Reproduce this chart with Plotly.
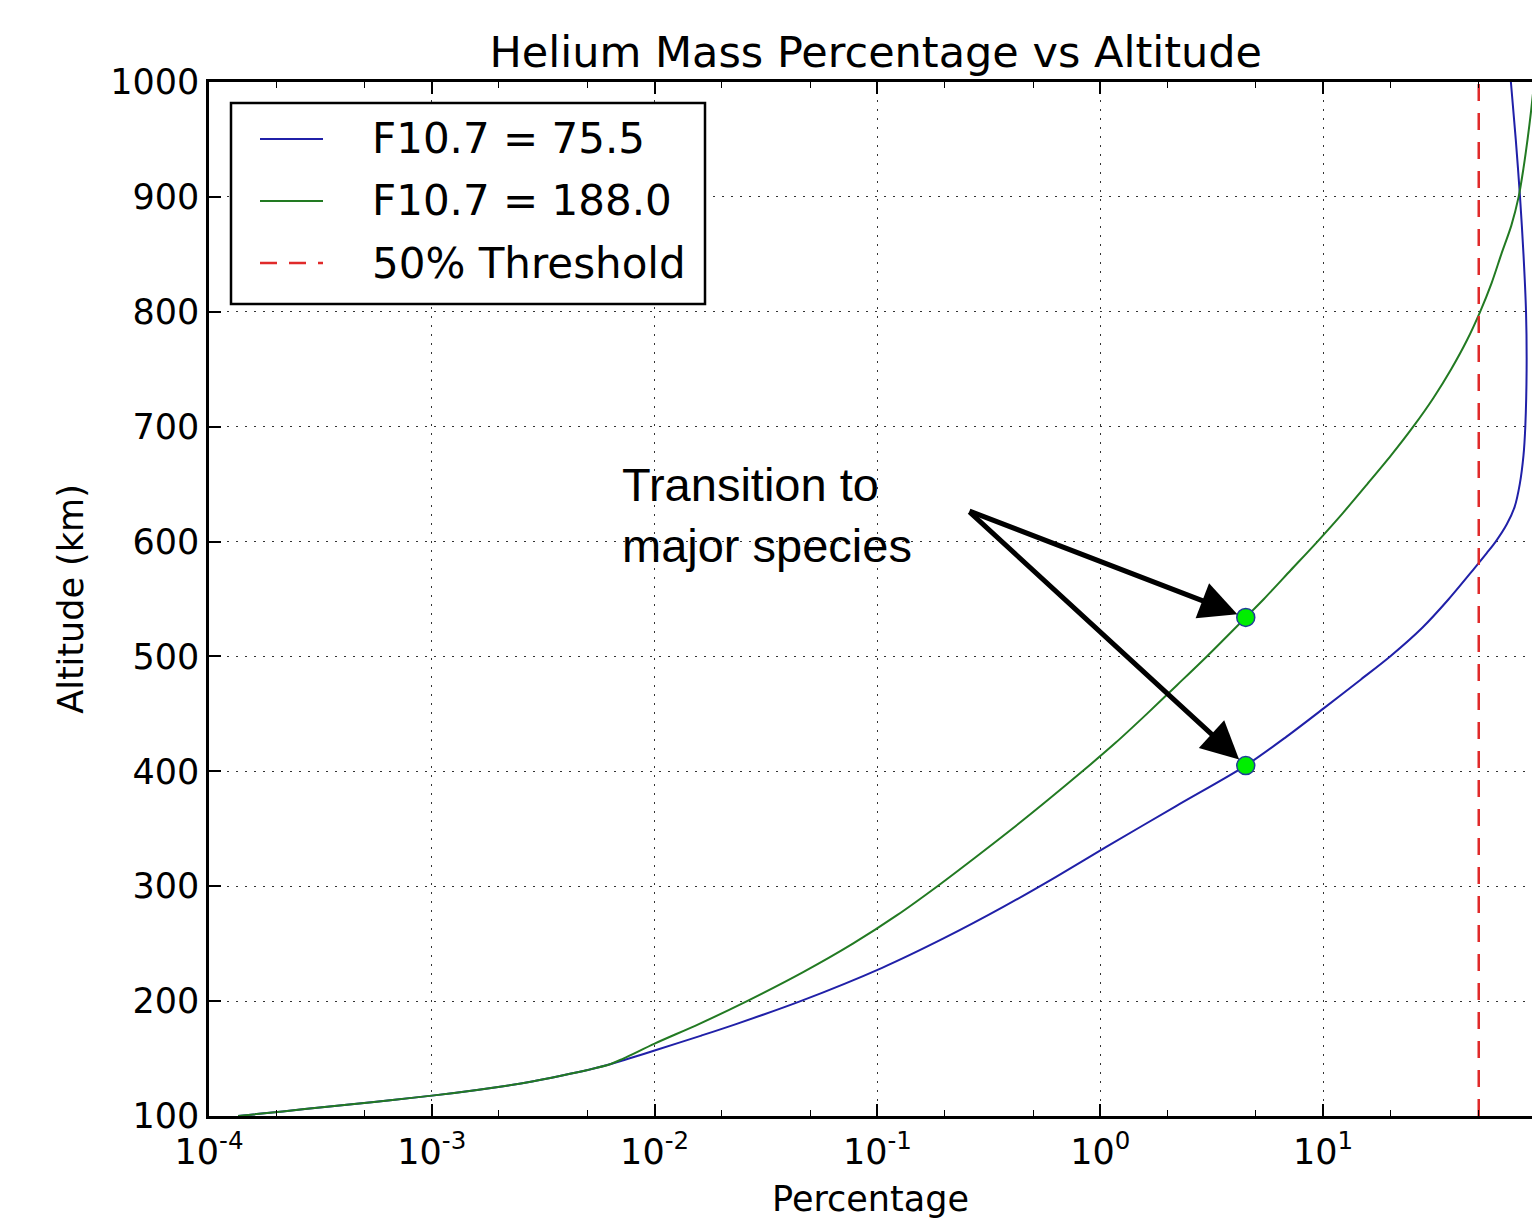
import plotly.graph_objects as go
import numpy as np

# ---- data ----
blue_alt = [100, 104, 108, 112, 116, 120, 125, 130, 135, 140, 145, 150, 157, 170, 180, 200,
            229, 255, 282, 308, 334, 370, 405, 430, 455, 480, 500, 525, 550, 575, 590, 600,
            615, 630, 650, 675, 700, 750, 800, 850, 900, 950, 1000]
blue_pct = [1.35e-4, 2.14e-4, 3.39e-4, 5.37e-4, 8.32e-4, 1.26e-3, 1.95e-3, 2.82e-3, 3.80e-3,
            5.01e-3, 6.31e-3, 7.67e-3, 1.0e-2, 1.62e-2, 2.32e-2, 4.52e-2, 0.105, 0.200, 0.367,
            0.631, 1.06, 2.20, 4.5, 6.84, 10.1, 14.8, 20.0, 27.9, 36.7, 47.0, 54.3, 59.6,
            66.8, 72.4, 76.4, 79.4, 80.9, 82.0, 81.5, 79.4, 76.6, 73.3, 69.7]

green_alt = [100, 104, 108, 112, 116, 120, 125, 130, 135, 140, 145, 150, 163, 180, 200, 225,
             250, 275, 300, 325, 350, 375, 400, 425, 450, 475, 500, 534, 550, 575, 600, 625,
             650, 675, 700, 725, 750, 775, 800, 825, 850, 875, 900, 925, 950, 975, 1000]
green_pct = [1.35e-4, 2.14e-4, 3.39e-4, 5.37e-4, 8.32e-4, 1.26e-3, 1.95e-3, 2.82e-3, 3.80e-3,
             5.01e-3, 6.31e-3, 7.24e-3, 1.0e-2, 1.58e-2, 2.60e-2, 4.62e-2, 7.76e-2, 0.123,
             0.186, 0.275, 0.403, 0.582, 0.832, 1.175, 1.62, 2.21, 3.01, 4.5, 5.43, 7.16, 9.44,
             12.3, 15.8, 20.2, 25.4, 31.3, 37.6, 44.2, 50.7, 57.1, 63.1, 70.0, 75.5, 79.4,
             82.8, 85.9, 88.7]

threshold_pct = 50
threshold_alt = [100, 1000]

trans_pct = [4.5, 4.5]
trans_alt = [534, 405]

arrow_tail_pct = 0.255
arrow_tail_alt = 627

series_names = ["F10.7 = 75.5", "F10.7 = 188.0", "50% Threshold"]
series_colors = ["#2020a8", "#227a22", "#e02a2a"]
series_dash = ["solid", "solid", "17px,12px"]

x_tick_exp = [-4, -3, -2, -1, 0, 1]
x_tick_vals = [10.0 ** e for e in x_tick_exp]
x_tick_text = ["10<sup>%d</sup>" % e for e in x_tick_exp]

fig = go.Figure()
fig.add_trace(go.Scatter(x=blue_pct, y=blue_alt, mode="lines", name=series_names[0],
                         line=dict(color=series_colors[0], width=2, shape="spline",
                                   smoothing=0.8)))
fig.add_trace(go.Scatter(x=green_pct, y=green_alt, mode="lines", name=series_names[1],
                         line=dict(color=series_colors[1], width=2, shape="spline",
                                   smoothing=0.8)))
fig.add_trace(go.Scatter(x=[threshold_pct, threshold_pct], y=threshold_alt, mode="lines",
                         name=series_names[2],
                         line=dict(color=series_colors[2], width=2.5, dash=series_dash[2])))
fig.add_trace(go.Scatter(x=trans_pct, y=trans_alt, mode="markers",
                         marker=dict(color="#00ee00", size=18,
                                     line=dict(color="#1f3d99", width=1.5))))

for p, a in zip(trans_pct, trans_alt):
    fig.add_annotation(x=np.log10(p), y=a, ax=np.log10(arrow_tail_pct), ay=arrow_tail_alt,
                       xref="x", yref="y", axref="x", ayref="y", text="",
                       showarrow=True, arrowhead=2, arrowsize=1.5, arrowwidth=5,
                       arrowcolor="black", standoff=9)

fig.add_annotation(x=np.log10(0.007), y=623, xref="x", yref="y",
                   text="Transition to<br>major species", showarrow=False,
                   xanchor="left", yanchor="middle", align="left",
                   font=dict(family="Liberation Sans", size=47, color="black"))

# ---- legend box (framed, upper left) ----
L, T, B = 209, 82, 1116
W = 1532 - L
H = B - T
def px(xp):
    return (xp - L) / W
def py(yp):
    return (B - yp) / H

fig.add_shape(type="rect", xref="paper", yref="paper", x0=px(231), x1=px(705),
              y0=py(304), y1=py(103), line=dict(color="black", width=2.5),
              fillcolor="white", layer="above")
for i, (name, col, dsh) in enumerate(zip(series_names, series_colors, series_dash)):
    yy = py(139 + 62 * i)
    fig.add_shape(type="line", xref="paper", yref="paper", x0=px(260), x1=px(323),
                  y0=yy, y1=yy, line=dict(color=col, width=2.5 if i == 2 else 2, dash=dsh),
                  layer="above")
    fig.add_annotation(x=px(370), y=yy, xref="paper", yref="paper", text=name,
                       showarrow=False, xanchor="left", yanchor="middle",
                       font=dict(family="DejaVu Sans", size=42, color="black"))

fig.update_layout(
    width=1532, height=1219,
    margin=dict(l=209, r=0, t=82, b=103),
    paper_bgcolor="white", plot_bgcolor="white",
    font=dict(family="DejaVu Sans", color="black", size=35),
    showlegend=False,
    title=dict(text="Helium Mass Percentage vs Altitude", x=0.504, xref="paper",
               xanchor="center", y=1 - 52 / 1219, yref="container", yanchor="middle",
               font=dict(size=43, color="black")),
)

fig.update_xaxes(type="log", range=[-4, 1.938], tickvals=x_tick_vals, ticktext=x_tick_text,
                 tickfont=dict(size=35),
                 showgrid=True, griddash="2px,7px", gridcolor="#333", gridwidth=1.2,
                 ticks="inside", ticklen=12, tickwidth=1.5, tickcolor="black",
                 showline=True, linecolor="black", linewidth=2.5, mirror="allticks",
                 minor=dict(ticks="inside", ticklen=6, tickwidth=1.2, tickcolor="black",
                            showgrid=False),
                 zeroline=False, ticklabelstandoff=3,
                 title=dict(text="Percentage", standoff=20, font=dict(size=35)))
fig.update_yaxes(range=[100, 1000], tick0=100, dtick=100,
                 showgrid=True, griddash="2px,7px", gridcolor="#333", gridwidth=1.2,
                 ticks="inside", ticklen=12, tickwidth=1.5, tickcolor="black",
                 showline=True, linecolor="black", linewidth=2.5, mirror=False,
                 zeroline=False, ticklabelstandoff=0,
                 title=dict(text="Altitude (km)", standoff=16, font=dict(size=35)))

fig.write_html("out.html")
